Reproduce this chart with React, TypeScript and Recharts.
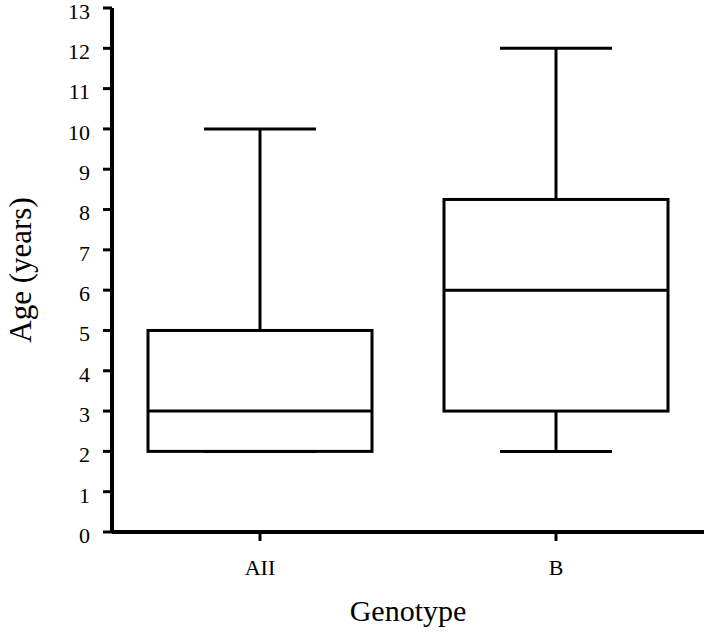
import { ComposedChart, Bar, XAxis, YAxis, Label } from 'recharts'

const categories = ['AII', 'B']
const mins = [2, 2]
const q1s = [2, 3]
const medians = [3, 6]
const q3s = [5, 8.25]
const maxs = [10, 12]
const yTicks = [0, 1, 2, 3, 4, 5, 6, 7, 8, 9, 10, 11, 12, 13]

const data = categories.map((name, i) => ({
    name,
    range: [mins[i], maxs[i]],
    min: mins[i],
    q1: q1s[i],
    median: medians[i],
    q3: q3s[i],
    max: maxs[i],
}))

const FONT = "'Liberation Serif', 'Times New Roman', Tinos, 'DejaVu Serif', serif"

// draws whiskers + box; the bar itself spans min..max so we map values into its pixel range
const BoxShape = (props: any) => {
    const { x, y, width, height, payload } = props
    if (!payload) return null
    const top = Math.min(y, y + height)
    const bot = Math.max(y, y + height)
    const { min, q1, median, q3, max } = payload
    const toPx = (v: number) => bot - ((v - min) / (max - min)) * (bot - top)
    const cx = x + width / 2
    const capHalf = width / 4
    const sw = 3
    return (
        <g stroke="#000" strokeWidth={sw} fill="none">
            <line x1={cx} x2={cx} y1={toPx(max)} y2={toPx(q3)} />
            <line x1={cx} x2={cx} y1={toPx(q1)} y2={toPx(min)} />
            <line x1={cx - capHalf} x2={cx + capHalf} y1={toPx(max)} y2={toPx(max)} />
            <line x1={cx - capHalf} x2={cx + capHalf} y1={toPx(min)} y2={toPx(min)} />
            <rect x={x} y={toPx(q3)} width={width} height={toPx(q1) - toPx(q3)} fill="#fff" />
            <line x1={x} x2={x + width} y1={toPx(median)} y2={toPx(median)} />
        </g>
    )
}

export default function App() {
    return (
        <div style={{ position: 'absolute', left: 0, top: 0, width: 708, height: 633, background: '#fff', fontFamily: FONT }}>
            <ComposedChart
                width={708}
                height={633}
                data={data}
                margin={{ top: 8, right: 4, left: 0, bottom: 0 }}
                style={{ fontFamily: FONT }}
            >
                <XAxis
                    dataKey="name"
                    height={101}
                    axisLine={{ stroke: '#000', strokeWidth: 4 }}
                    tickLine={{ stroke: '#000', strokeWidth: 3 }}
                    tickSize={9}
                    tickMargin={18}
                    tick={{ fill: '#000', fontSize: 22, fontFamily: FONT }}
                >
                    <Label value="Genotype" position="insideBottom" offset={12} fill="#000" fontSize={30} fontFamily={FONT} />
                </XAxis>
                <XAxis
                    xAxisId="top"
                    dataKey="name"
                    orientation="top"
                    height={0}
                    tick={false}
                    tickLine={false}
                    axisLine={{ stroke: '#000', strokeWidth: 4 }}
                />
                <YAxis
                    type="number"
                    domain={[0, 13]}
                    ticks={yTicks}
                    interval={0}
                    width={112}
                    axisLine={{ stroke: '#000', strokeWidth: 4 }}
                    tickLine={{ stroke: '#000', strokeWidth: 3 }}
                    tickSize={9}
                    tickMargin={13}
                    tick={{ fill: '#000', fontSize: 22, fontFamily: FONT, dy: 3 }}
                >
                    <Label
                        value="Age (years)"
                        angle={-90}
                        position="insideLeft"
                        offset={20}
                        style={{ textAnchor: 'middle' }}
                        fill="#000"
                        fontSize={31}
                        fontFamily={FONT}
                    />
                </YAxis>
                <YAxis
                    yAxisId="right"
                    orientation="right"
                    type="number"
                    domain={[0, 13]}
                    width={0}
                    tick={false}
                    tickLine={false}
                    axisLine={{ stroke: '#000', strokeWidth: 4 }}
                />
                <Bar dataKey="range" barSize={224} shape={<BoxShape />} isAnimationActive={false} />
            </ComposedChart>
        </div>
    )
}
